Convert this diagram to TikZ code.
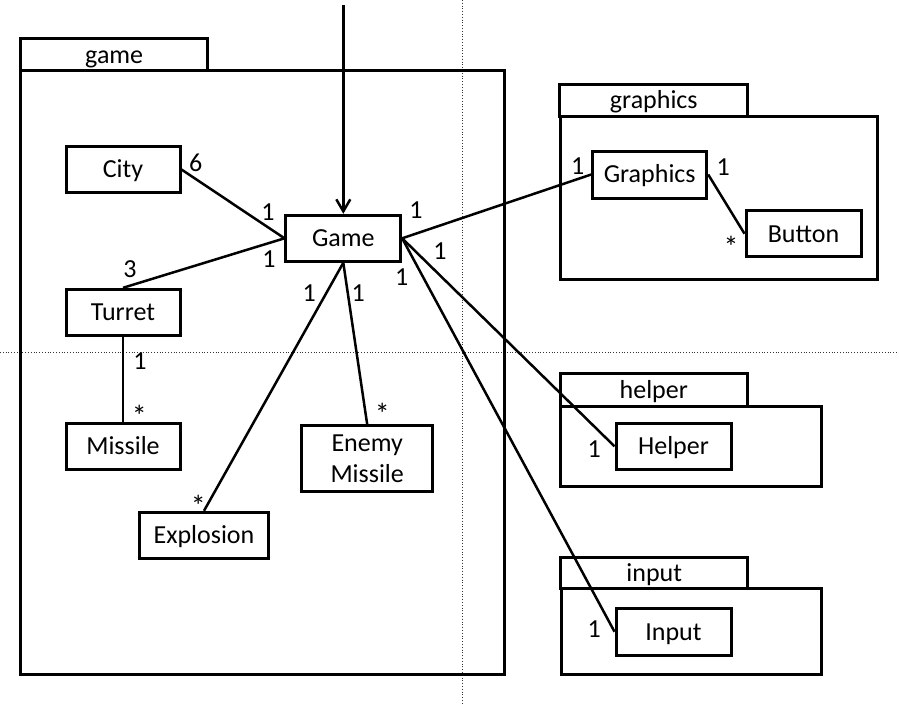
\documentclass[tikz,border=0pt]{standalone}
\usepackage{fontspec}
\setmainfont{Carlito}
\usetikzlibrary{arrows.meta}
\begin{document}
\begin{tikzpicture}[x=1pt,y=-1pt,
  every node/.style={font=\fontsize{26}{31}\selectfont},
  clsbase/.style={draw,line width=3pt,inner sep=0pt},
  cls/.style={clsbase,text height=16.7pt,text depth=0pt,minimum width=114pt,minimum height=46pt},
  tab/.style={draw,line width=3pt,inner sep=0pt,text height=17.5pt,text depth=0pt,minimum width=187pt,minimum height=32pt},
  body/.style={draw,line width=3pt},
  mult/.style={inner sep=0pt,text height=16.7pt,text depth=0pt},
  star/.style={inner sep=0pt,font=\fontsize{30}{34}\selectfont,yshift=-5.5pt},
  assoc/.style={line width=2.5pt},
  pagebreak/.style={line width=0.8pt,dotted,black!80}
]
\useasboundingbox (0,0) rectangle (899,705);
% page break guides
\coordinate (vb1) at (462.7,0);
\coordinate (vb2) at (462.7,705);
\coordinate (hb1) at (0,352.7);
\coordinate (hb2) at (899,352.7);
\draw[pagebreak] (vb1) -- (vb2);
\draw[pagebreak] (hb1) -- (hb2);

% packages
\draw[body] (20.7,70.3) rectangle (504,674);
\node[tab] (gametab) at (114.2,54.3) {game};
\draw[body] (560,116) rectangle (877.7,279.3);
\node[tab,minimum width=187.7pt,minimum height=31.7pt] (graphicstab) at (653.8,100.2) {graphics};
\draw[body] (560,406) rectangle (821,486.7);
\node[tab,minimum height=32.7pt] (helpertab) at (653.8,389.7) {helper};
\draw[body] (561,588.3) rectangle (821.7,674);
\node[tab,minimum width=186.7pt,minimum height=30.6pt] (inputtab) at (654.3,573) {input};

% classes
\node[cls,minimum height=46.5pt] (city) at (123,169.5) {City};
\node[cls,minimum width=114.7pt] (game) at (343.3,238.3) {Game};
\node[cls] (turret) at (123,312.3) {Turret};
\node[cls] (missile) at (123,446.3) {Missile};
\node[cls,minimum width=129.4pt,minimum height=46.4pt] (explosion) at (204,535.5) {Explosion};
\node[clsbase,minimum width=131pt,minimum height=65.7pt,align=center] (enemy) at (367.2,458.8) {Enemy\\Missile};
\node[cls,minimum height=47pt] (graphics) at (649.7,174.5) {Graphics};
\node[cls,minimum width=115pt] (button) at (803.5,233.7) {Button};
\node[cls,minimum width=115pt] (helper) at (673.5,446.3) {Helper};
\node[cls,minimum width=115pt,minimum height=46.7pt] (input) at (673.5,631.7) {Input};

% entry arrow
\coordinate (entry) at (343.3,5);
\draw[assoc,-{Straight Barb[length=12pt,width=14pt]}] (entry) -- (game.north);

% associations
\draw[assoc] (city.east) -- (game.west);
\draw[assoc] (turret.north) -- (game.west);
\draw[assoc] (turret.south) -- (missile.north);
\draw[assoc] (game.south) -- (explosion.north);
\draw[assoc] (game.south) -- (enemy.north);
\draw[assoc] (game.east) -- (graphics.west);
\draw[assoc] (game.east) -- (helper.west);
\draw[assoc] (game.east) -- (input.west);
\draw[assoc] (graphics.east) -- (button.west);

% multiplicities
\node[mult] (m1) at (195.7,163.3) {6};
\node[mult] (m2) at (268,212) {1};
\node[mult] (m3) at (269,259.3) {1};
\node[mult] (m4) at (130,269.3) {3};
\node[mult] (m5) at (140,360.7) {1};
\node[star] (m6) at (139.3,410.7) {*};
\node[mult] (m7) at (309.3,292.7) {1};
\node[star] (m8) at (198.3,500) {*};
\node[mult] (m9) at (358.3,292.7) {1};
\node[star] (m10) at (382.3,408.5) {*};
\node[mult] (m11) at (416,210) {1};
\node[mult] (m12) at (440,250.7) {1};
\node[mult] (m13) at (401.7,277.3) {1};
\node[mult] (m14) at (577.7,165.7) {1};
\node[mult] (m15) at (723.3,167.3) {1};
\node[star] (m16) at (731,241) {*};
\node[mult] (m17) at (594.3,449.3) {1};
\node[mult] (m18) at (594.3,629.3) {1};
\end{tikzpicture}
\end{document}
